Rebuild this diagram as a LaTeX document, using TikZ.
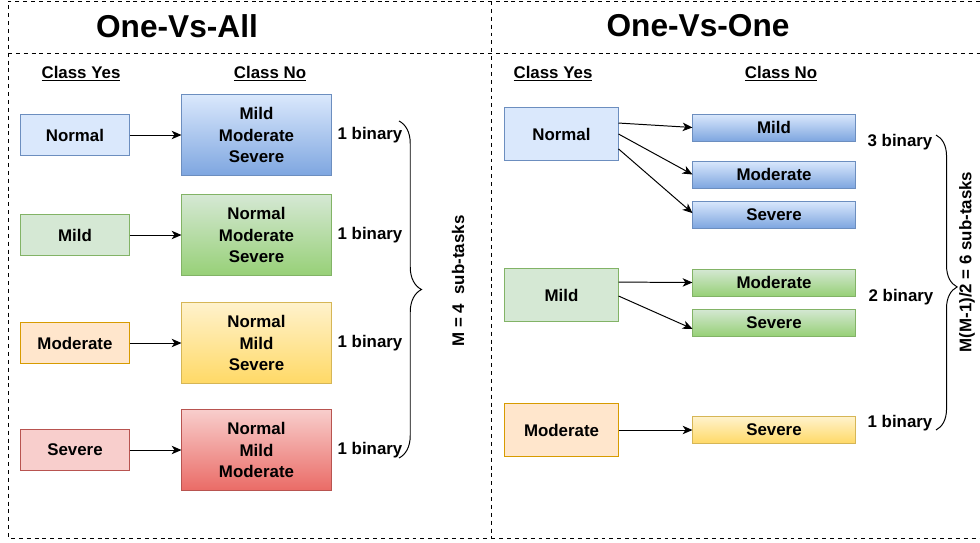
\documentclass[tikz,border=0pt]{standalone}
\usepackage{fontspec}
\setmainfont{Liberation Sans}
\usepackage{tikz}
\usetikzlibrary{arrows.meta,positioning,decorations.pathreplacing}

\definecolor{blueA}{HTML}{DAE8FC}
\definecolor{blueB}{HTML}{7EA6E0}
\definecolor{blueL}{HTML}{6C8EBF}
\definecolor{greenA}{HTML}{D5E8D4}
\definecolor{greenB}{HTML}{97D077}
\definecolor{greenL}{HTML}{82B366}
\definecolor{yellowA}{HTML}{FFF2CC}
\definecolor{yellowB}{HTML}{FFD966}
\definecolor{yellowL}{HTML}{D6B656}
\definecolor{redA}{HTML}{F8CECC}
\definecolor{redB}{HTML}{EA6B66}
\definecolor{redL}{HTML}{B85450}
\definecolor{orangeA}{HTML}{FFE6CC}
\definecolor{orangeL}{HTML}{D79B00}

\begin{document}
\begin{tikzpicture}[x=0.025cm, y=-0.025cm,
    every node/.style={font=\bfseries\fontsize{12}{15}\selectfont},
    box/.style={rectangle, draw, line width=0.7pt, inner sep=0pt, align=center},
    yesbox/.style={box, minimum width=2.7cm, minimum height=1.025cm},
    nobox/.style={box, minimum width=3.725cm, minimum height=2.025cm},
    pairyes/.style={box, minimum width=2.825cm, minimum height=1.325cm},
    pairno/.style={box, minimum width=4.05cm, minimum height=0.675cm},
    blue/.style={draw=blueL, top color=blueA, bottom color=blueB},
    green/.style={draw=greenL, top color=greenA, bottom color=greenB},
    yellow/.style={draw=yellowL, top color=yellowA, bottom color=yellowB},
    red/.style={draw=redL, top color=redA, bottom color=redB},
    title/.style={font=\bfseries\fontsize{22.5}{26}\selectfont},
    head/.style={font=\bfseries\fontsize{12}{15}\selectfont},
    arrow/.style={-{Stealth[length=7pt, width=6pt, inset=2pt]}, line width=0.7pt},
    frame/.style={line width=0.7pt, dash pattern=on 2.8pt off 2.8pt},
    bracket/.style={decorate, line width=0.7pt}
]
\useasboundingbox (0,0) rectangle (980,542);

% Frame
\draw[frame] (980,1) -- (8,1) -- (8,538) -- (980,538);
\draw[frame] (8,53) -- (980,53);
\draw[frame] (491,1) -- (491,538);

% Titles
\node[title] (ovaT) at (177,26) {One-Vs-All};
\node[title] (ovoT) at (698,26) {One-Vs-One};
\node[head] (ovaYes) at (81,74) {\underline{Class Yes}};
\node[head] (ovaNo) at (270,74) {\underline{Class No}};
\node[head] (ovoYes) at (553,74) {\underline{Class Yes}};
\node[head] (ovoNo) at (781,74) {\underline{Class No}};

% One-Vs-All: class yes
\node[yesbox, draw=blueL, fill=blueA] (aNormal) at (75,135) {Normal};
\node[yesbox, draw=greenL, fill=greenA] (aMild) at (75,235) {Mild};
\node[yesbox, draw=orangeL, fill=orangeA] (aModerate) at (75,343) {Moderate};
\node[yesbox, draw=redL, fill=redA] (aSevere) at (75,450) {Severe};

% One-Vs-All: class no
\node[nobox, blue] (aRest1) at (256.5,135) {Mild\\Moderate\\Severe};
\node[nobox, green] (aRest2) at (256.5,235) {Normal\\Moderate\\Severe};
\node[nobox, yellow] (aRest3) at (256.5,343) {Normal\\Mild\\Severe};
\node[nobox, red] (aRest4) at (256.5,450) {Normal\\Mild\\Moderate};

\foreach \i/\n in {1/Normal, 2/Mild, 3/Moderate, 4/Severe}
    \draw[arrow] (a\n) -- (aRest\i);

% One-Vs-All: counts
\node (aBin1) at (370,135) {1 binary};
\node (aBin2) at (370,235) {1 binary};
\node (aBin3) at (370,343) {1 binary};
\node (aBin4) at (370,450) {1 binary};

\coordinate (aTop) at (399,121);
\coordinate (aBot) at (399,458);
\draw[bracket, decoration={brace, amplitude=16pt}] (aTop) -- (aBot);
\node[rotate=90] (aSum) at (458,281) {M = 4\ \ sub-tasks};

% One-Vs-One: class yes
\node[pairyes, draw=blueL, fill=blueA] (oNormal) at (561.5,134) {Normal};
\node[pairyes, draw=greenL, fill=greenA] (oMild) at (561.5,295) {Mild};
\node[pairyes, draw=orangeL, fill=orangeA] (oModerate) at (561.5,430) {Moderate};

% One-Vs-One: class no
\node[pairno, blue] (oNMild) at (774,127.5) {Mild};
\node[pairno, blue] (oNModerate) at (774,174.5) {Moderate};
\node[pairno, blue] (oNSevere) at (774,214.5) {Severe};
\node[pairno, green] (oMModerate) at (774,282.5) {Moderate};
\node[pairno, green] (oMSevere) at (774,322.5) {Severe};
\node[pairno, yellow] (oOSevere) at (774,430) {Severe};

\draw[arrow] ([yshift=7.8pt]oNormal.east) -- (oNMild.west);
\draw[arrow] (oNormal.east) -- (oNModerate.west);
\draw[arrow] ([yshift=-10.6pt]oNormal.east) -- ([yshift=1pt]oNSevere.west);
\draw[arrow] ([yshift=9.2pt]oMild.east) -- (oMModerate.west);
\draw[arrow] ([yshift=-0.7pt]oMild.east) -- ([yshift=-4.5pt]oMSevere.west);
\draw[arrow] (oModerate) -- (oOSevere);

% One-Vs-One: counts
\node (oBin3) at (900,142) {3 binary};
\node (oBin2) at (901,297) {2 binary};
\node (oBin1) at (900,423) {1 binary};

\coordinate (oTop) at (936,135);
\coordinate (oBot) at (936,430);
\draw[bracket, decoration={brace, amplitude=15pt, aspect=0.515}] (oTop) -- (oBot);
\node[rotate=90] (oSum) at (967,262) {M(M-1)/2 = 6 sub-tasks};

\end{tikzpicture}
\end{document}
